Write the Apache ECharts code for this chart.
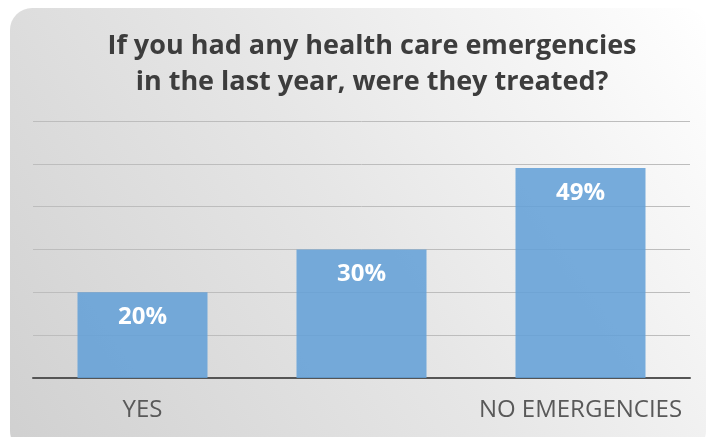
<!DOCTYPE html>
<html><head><meta charset="utf-8">
<script src="https://cdn.jsdelivr.net/npm/echarts@6/dist/echarts.min.js"></script>
<style>html,body{margin:0;padding:0;background:#fff;}#c{width:708px;height:437px;}</style>
</head><body><div id="c"></div>
<script>
const categories = ['YES', 'NO', 'NO EMERGENCIES'];
const values = [20, 30, 49];
const titleLines = ['If you had any health care emergencies', 'in the last year, were they treated?'];

const chart = echarts.init(document.getElementById('c'));
chart.setOption({
  backgroundColor: '#ffffff',
  animation: false,
  graphic: [{
    type: 'rect', z: -10, silent: true,
    shape: { x: 10, y: 8, width: 696, height: 445, r: 22 },
    style: {
      fill: new echarts.graphic.LinearGradient(1, 0, 0, 1, [
        { offset: 0, color: '#ffffff' },
        { offset: 0.5, color: '#e6e6e6' },
        { offset: 1, color: '#d0d0d0' }
      ])
    }
  }],
  title: {
    text: titleLines.join('\n'),
    left: 367, top: 23, textAlign: 'center',
    textStyle: { fontFamily: 'Open Sans', fontWeight: 'bold', fontSize: 27, color: '#3d3d3d', lineHeight: 36 }
  },
  grid: { left: 33, right: 18, top: 121, bottom: 59, containLabel: false },
  xAxis: {
    type: 'category', data: categories,
    axisLine: { lineStyle: { color: '#555555', width: 2 } },
    axisTick: { show: false },
    axisLabel: { fontFamily: 'Open Sans', fontSize: 24, color: '#595959', margin: 20 }
  },
  yAxis: {
    type: 'value', min: 0, max: 60, interval: 10,
    axisLabel: { show: false }, axisLine: { show: false }, axisTick: { show: false },
    splitLine: { lineStyle: { color: '#bdbdbd', width: 1 } }
  },
  series: [{
    type: 'bar', data: values, barWidth: 130,
    itemStyle: { color: 'rgba(100,160,215,0.88)' },
    label: {
      show: true, position: 'insideTop', distance: 13, formatter: '{c}%',
      fontFamily: 'Open Sans', fontWeight: 'bold', fontSize: 24, color: '#ffffff'
    }
  }]
});
</script></body></html>
